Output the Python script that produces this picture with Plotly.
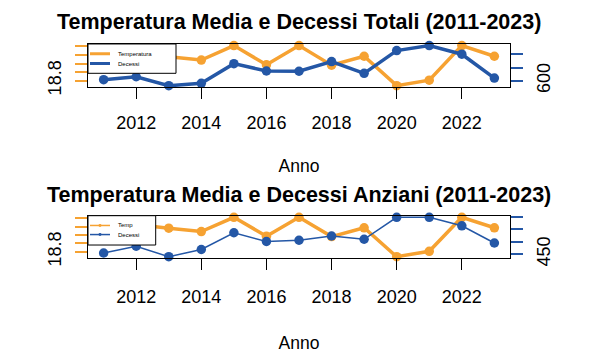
import plotly.graph_objects as go

# ---------------- data ----------------
anni = [2011, 2012, 2013, 2014, 2015, 2016, 2017, 2018, 2019, 2020, 2021, 2022, 2023]
temperatura = [19.25, 19.45, 19.36, 19.28, 19.62, 19.17, 19.62, 19.16, 19.37, 18.68, 18.81, 19.62, 19.37]
decessi_totali = [604, 615, 581, 590, 665, 637, 636, 673, 628, 715, 734, 701, 610]
decessi_anziani = [455, 482, 440, 469, 536, 501, 506, 523, 510, 598, 598, 564, 495]

x_ticks = [2012, 2014, 2016, 2018, 2020, 2022]
temp_ticks = [18.8, 19.0, 19.2, 19.4, 19.6]
temp_ticktext = ["18.8", "", "", "", ""]
tot_ticks = [600, 650, 700]
tot_ticktext = ["600", "", ""]
anz_ticks = [450, 500, 550, 600]
anz_ticktext = ["450", "", "", ""]

titolo1 = "Temperatura Media e Decessi Totali (2011-2023)"
titolo2 = "Temperatura Media e Decessi Anziani (2011-2023)"
legenda1 = ["Temperatura", "Decessi"]
legenda2 = ["Temp", "Decessi"]

# ---------------- styling ----------------
W, H = 598, 353
ORANGE = "#F6A232"
BLUE = "#2457A6"
FONT = "Liberation Sans, Arial, Helvetica, sans-serif"


def px(x):
    return x / W


def py(y):
    return 1 - y / H


def r_range(vals, pad=0.04):
    lo, hi = min(vals), max(vals)
    d = (hi - lo) * pad
    return [lo - d, hi + d]


xr = r_range(anni)

fig = go.Figure()

# top panel
fig.add_trace(go.Scatter(x=anni, y=temperatura, mode="lines+markers", xaxis="x", yaxis="y",
                         line=dict(color=ORANGE, width=3.5), marker=dict(color=ORANGE, size=9.5),
                         showlegend=False, cliponaxis=False))
fig.add_trace(go.Scatter(x=anni, y=decessi_totali, mode="lines+markers", xaxis="x", yaxis="y2",
                         line=dict(color=BLUE, width=3.5), marker=dict(color=BLUE, size=9.5),
                         showlegend=False, cliponaxis=False))
# bottom panel
fig.add_trace(go.Scatter(x=anni, y=temperatura, mode="lines+markers", xaxis="x2", yaxis="y3",
                         line=dict(color=ORANGE, width=3.5), marker=dict(color=ORANGE, size=9.5),
                         showlegend=False, cliponaxis=False))
fig.add_trace(go.Scatter(x=anni, y=decessi_anziani, mode="lines+markers", xaxis="x2", yaxis="y4",
                         line=dict(color=BLUE, width=1.5), marker=dict(color=BLUE, size=9.5),
                         showlegend=False, cliponaxis=False))

xdom = [px(88), px(510)]
top_dom = [py(89.3), py(45)]
bot_dom = [py(264.3), py(220.7)]

tickfont = dict(family=FONT, size=18, color="black")


def xaxis_common(standoff_lab, standoff_title):
    return dict(domain=xdom, range=xr, tickmode="array", tickvals=x_ticks,
                ticks="outside", ticklen=11, tickcolor="black", tickwidth=1,
                showline=True, linecolor="black", linewidth=1, mirror=True,
                showgrid=False, zeroline=False, tickfont=tickfont,
                ticklabelstandoff=standoff_lab,
                title=dict(text="Anno", font=dict(family=FONT, size=17.5, color="black"),
                           standoff=standoff_title))


fig.update_layout(
    width=W, height=H, autosize=False,
    margin=dict(l=0, r=0, t=0, b=0),
    paper_bgcolor="white", plot_bgcolor="white",
    showlegend=False,
    xaxis=dict(anchor="y", **xaxis_common(8, 27)),
    xaxis2=dict(anchor="y3", **xaxis_common(11, 34)),
    yaxis=dict(domain=top_dom, range=r_range(temperatura), tickmode="array",
               tickvals=temp_ticks, ticktext=temp_ticktext, ticks="outside", ticklen=12,
               tickcolor=ORANGE, tickwidth=1.5, tickangle=-90, tickfont=tickfont,
               showline=True, linecolor="black", linewidth=1, mirror=True,
               showgrid=False, zeroline=False, anchor="x", ticklabelstandoff=7),
    yaxis2=dict(domain=top_dom, range=r_range(decessi_totali), overlaying="y", side="right",
                tickmode="array", tickvals=tot_ticks, ticktext=tot_ticktext, ticks="outside",
                ticklen=12, tickcolor=BLUE, tickwidth=1.5, tickangle=-90, tickfont=tickfont,
                showline=False, showgrid=False, zeroline=False, anchor="x", ticklabelstandoff=5),
    yaxis3=dict(domain=bot_dom, range=r_range(temperatura), tickmode="array",
                tickvals=temp_ticks, ticktext=temp_ticktext, ticks="outside", ticklen=12,
                tickcolor=ORANGE, tickwidth=1.5, tickangle=-90, tickfont=tickfont,
                showline=True, linecolor="black", linewidth=1, mirror=True,
                showgrid=False, zeroline=False, anchor="x2", ticklabelstandoff=7),
    yaxis4=dict(domain=bot_dom, range=r_range(decessi_anziani), overlaying="y3", side="right",
                tickmode="array", tickvals=anz_ticks, ticktext=anz_ticktext, ticks="outside",
                ticklen=12, tickcolor=BLUE, tickwidth=1.5, tickangle=-90, tickfont=tickfont,
                showline=False, showgrid=False, zeroline=False, anchor="x2", ticklabelstandoff=5),
)

# titles
for txt, yc in [(titolo1, 23), (titolo2, 200)]:
    fig.add_annotation(text="<b>%s</b>" % txt, x=px(299), y=py(yc), xref="paper", yref="paper",
                       showarrow=False, xanchor="center", yanchor="middle",
                       font=dict(family=FONT, size=21.5, color="black"))


# legends (drawn as boxes like R's legend())
def add_legend(x0, y0, x1, y1, labels, ys, width, dots, fsize):
    fig.add_shape(type="rect", x0=px(x0), x1=px(x1), y0=py(y1), y1=py(y0), xref="paper", yref="paper",
                  line=dict(color="black", width=1), fillcolor="white", layer="above")
    for lab, yy, col in zip(labels, ys, [ORANGE, BLUE]):
        fig.add_shape(type="line", x0=px(x0 + 2), x1=px(x0 + 22), y0=py(yy), y1=py(yy),
                      xref="paper", yref="paper", line=dict(color=col, width=width), layer="above")
        if dots:
            fig.add_shape(type="circle", x0=px(x0 + 10.5), x1=px(x0 + 13.5), y0=py(yy + 1.5), y1=py(yy - 1.5),
                          xref="paper", yref="paper", line=dict(color=col, width=0), fillcolor=col,
                          layer="above")
        fig.add_annotation(text=lab, x=px(x0 + 28), y=py(yy), xref="paper", yref="paper",
                           showarrow=False, xanchor="left", yanchor="middle",
                           font=dict(family=FONT, size=fsize, color="black"))


add_legend(88, 45, 176, 75, legenda1, [55, 65], 3, False, 6)
add_legend(88, 220.7, 155.7, 250.7, legenda2, [230.7, 240], 1.5, True, 6)

fig.write_html("out.html")
